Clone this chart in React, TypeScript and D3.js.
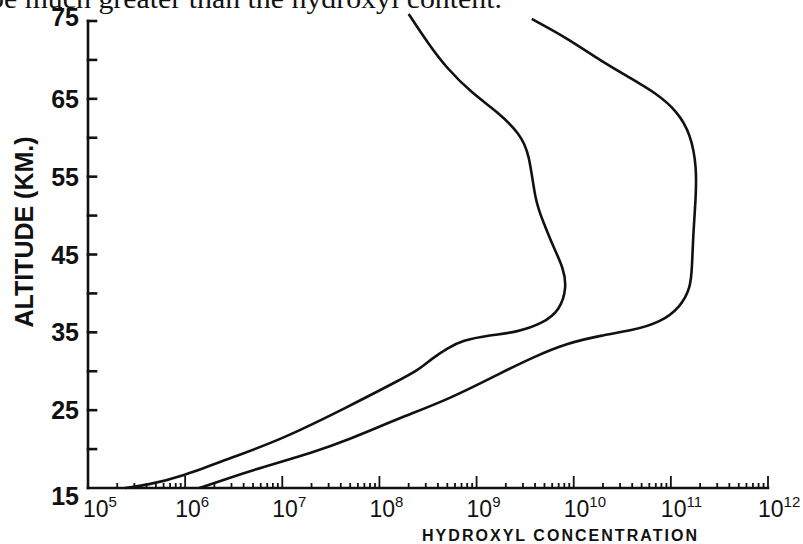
import React from "react";
import * as d3 from "d3";

// Altitude (km) and hydroxyl concentration (molecules/cm^3)
const upperAlt = [75.9, 72.05, 68.97, 65.64, 63.46, 60.51, 57.95, 51.92, 49.36, 45.9, 43.33, 40.77, 37.82, 36.15, 35.0, 34.6, 33.97, 32.95, 31.67, 30.13, 28.85, 25.4, 21.15, 18.85, 16.4, 15.4, 15.0];
const upperConc = [2.0e8, 3.2e8, 4.9e8, 9.1e8, 1.6e9, 2.8e9, 3.5e9, 4.0e9, 4.8e9, 6.2e9, 7.8e9, 8.5e9, 7.2e9, 4.8e9, 2.6e9, 1.3e9, 7.2e8, 5.0e8, 3.5e8, 2.5e8, 1.6e8, 4.7e7, 9.5e6, 2.9e6, 8.9e5, 4.1e5, 2.4e5];

const lowerAlt = [75.26, 72.82, 69.87, 67.69, 65.64, 63.46, 60.51, 56.15, 51.92, 47.69, 43.33, 40.77, 38.2, 36.28, 35.26, 34.6, 33.6, 31.8, 29.74, 26.5, 23.97, 21.15, 19.6, 17.7, 16.03, 15.0];
const lowerConc = [3.7e9, 8.5e9, 1.9e10, 3.8e10, 7.2e10, 1.15e11, 1.6e11, 1.85e11, 1.8e11, 1.7e11, 1.65e11, 1.6e11, 1.25e11, 7.8e10, 4.1e10, 1.9e10, 8.5e9, 3.8e9, 1.75e9, 5.4e8, 1.6e8, 4.7e7, 2.1e7, 6.3e6, 2.45e6, 1.4e6];

const yTickValues = [15, 20, 25, 30, 35, 40, 45, 50, 55, 60, 65, 70, 75];
const yLabelValues = [15, 25, 35, 45, 55, 65, 75];
const xDecadeExponents = [5, 6, 7, 8, 9, 10, 11, 12];
const minorMultipliers = [2, 3, 4, 5, 6, 7, 8, 9];

const headerText = "be much greater than the hydroxyl content.";
const yTitle = "ALTITUDE (KM.)";
const xTitle = "HYDROXYL CONCENTRATION";

export default function App() {
  const W = 803;
  const H = 544;
  const x = d3.scaleLog().domain([1e5, 1e12]).range([88, 768]);
  const y = d3.scaleLinear().domain([15, 75]).range([488, 21]);

  const line = d3
    .line<[number, number]>()
    .x((d) => x(d[0]))
    .y((d) => y(d[1]))
    .curve(d3.curveBasis);

  const upper = upperAlt.map((a, i) => [upperConc[i], a] as [number, number]);
  const lower = lowerAlt.map((a, i) => [lowerConc[i], a] as [number, number]);

  const minorTicks: number[] = [];
  for (const e of xDecadeExponents.slice(0, -1)) {
    for (const m of minorMultipliers) minorTicks.push(m * Math.pow(10, e));
  }

  const sans = "'Liberation Sans', Arial, Helvetica, sans-serif";
  const x0 = x(1e5);
  const yBase = y(15);

  return (
    <svg
      width={W}
      height={H}
      viewBox={`0 0 ${W} ${H}`}
      style={{ position: "absolute", left: 0, top: 0, background: "#fff" }}
    >
      <rect width={W} height={H} fill="#fff" />
      {/* cropped line of body text above the figure */}
      <text
        x={-11}
        y={8}
        fontFamily="'Liberation Serif', 'Times New Roman', serif"
        fontSize={28}
        textLength={513}
        lengthAdjust="spacingAndGlyphs"
        fill="#111"
      >
        {headerText}
      </text>

      {/* axes */}
      <g stroke="#111" strokeWidth={2.6} fill="none" strokeLinecap="square">
        <line x1={x0} y1={y(75)} x2={x0} y2={yBase} />
        <line x1={x0} y1={yBase} x2={x(1e12)} y2={yBase} />
        {yTickValues
          .filter((v) => v !== 15)
          .map((v) => (
            <line key={`yt${v}`} x1={x0} x2={x0 + 8} y1={y(v)} y2={y(v)} />
          ))}
      </g>
      <g stroke="#111" strokeWidth={1.8}>
        {minorTicks.map((v, i) => (
          <line key={`mt${i}`} x1={x(v)} x2={x(v)} y1={yBase} y2={yBase - 5} />
        ))}
        {xDecadeExponents.slice(1).map((e) => (
          <line
            key={`dt${e}`}
            x1={x(Math.pow(10, e))}
            x2={x(Math.pow(10, e))}
            y1={yBase}
            y2={yBase - 12}
          />
        ))}
      </g>

      {/* y labels */}
      {yLabelValues.map((v) => (
        <text
          key={`yl${v}`}
          x={79}
          y={y(v) + 9 + (v === 75 ? -4 : v === 15 ? 8 : 0)}
          textAnchor="end"
          fontFamily={sans}
          fontWeight="bold"
          fontSize={25}
          fill="#111"
        >
          {v}
        </text>
      ))}

      {/* x labels */}
      {xDecadeExponents.map((e) => {
        const px = x(Math.pow(10, e)) - (e === 5 ? 5 : 10);
        return (
          <text key={`xl${e}`} x={px} y={517} fontFamily={sans} fontSize={23} fill="#111">
            10
            <tspan dy={-10} fontSize={15}>
              {e}
            </tspan>
          </text>
        );
      })}

      {/* titles */}
      <text
        transform="translate(33,232) rotate(-90)"
        textAnchor="middle"
        fontFamily={sans}
        fontWeight="bold"
        fontSize={25}
        fill="#111"
      >
        {yTitle}
      </text>
      <text
        x={422}
        y={541}
        fontFamily={sans}
        fontWeight="bold"
        fontSize={16}
        textLength={275}
        lengthAdjust="spacing"
        fill="#111"
      >
        {xTitle}
      </text>

      {/* profiles */}
      <path d={line(upper) || ""} fill="none" stroke="#111" strokeWidth={2.6} />
      <path d={line(lower) || ""} fill="none" stroke="#111" strokeWidth={2.6} />
    </svg>
  );
}
